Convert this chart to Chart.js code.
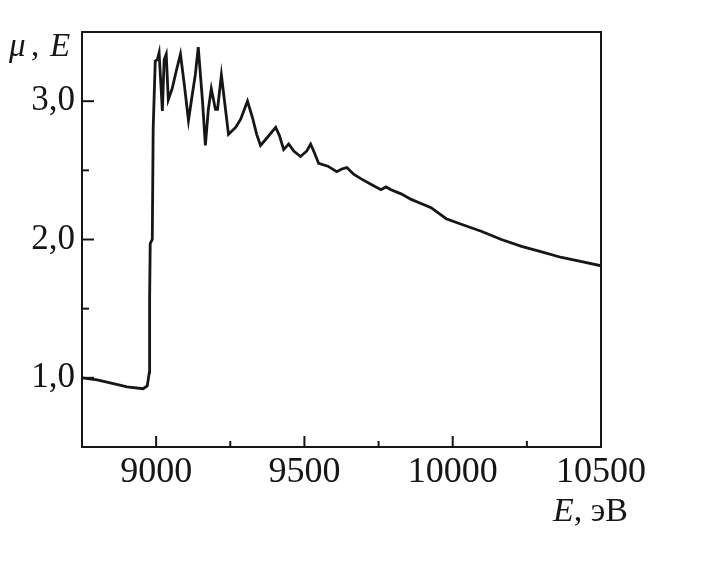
<!DOCTYPE html>
<html>
<head>
<meta charset="utf-8">
<script src="https://cdn.jsdelivr.net/npm/chart.js@4.4.1/dist/chart.umd.min.js"></script>
<style>
  html, body { margin: 0; padding: 0; background: #fff; }
  #wrap { width: 720px; height: 565px; }
</style>
</head>
<body>
<div id="wrap"><canvas id="chart" width="720" height="565"></canvas></div>
<script>
// energy, eV
const energy = [
    8750, 8801, 8845, 8902, 8956, 8970, 8977, 8978, 8980, 8987,
    8990, 8997, 9004, 9010, 9021, 9027, 9034, 9041, 9054, 9068,
    9082, 9095, 9109, 9122, 9132, 9142, 9156, 9166, 9176, 9186,
    9200, 9207, 9220, 9230, 9244, 9268, 9285, 9308, 9325, 9339,
    9352, 9372, 9403, 9416, 9430, 9447, 9464, 9487, 9508, 9521,
    9535, 9548, 9579, 9609, 9626, 9643, 9667, 9690, 9724, 9758,
    9775, 9792, 9826, 9860, 9893, 9927, 9978, 10029, 10096, 10164,
    10232, 10300, 10367, 10435, 10500
];
// absorption mu
const mu = [
    1.00, 0.986, 0.964, 0.935, 0.921, 0.942, 1.04, 1.57, 1.97, 2.00,
    2.80, 3.29, 3.30, 3.35, 2.93, 3.30, 3.34, 3.01, 3.09, 3.22,
    3.34, 3.12, 2.86, 3.05, 3.19, 3.39, 3.01, 2.68, 2.94, 3.09,
    2.94, 2.94, 3.19, 3.01, 2.76, 2.81, 2.87, 3.00, 2.88, 2.76,
    2.68, 2.73, 2.81, 2.75, 2.65, 2.69, 2.64, 2.60, 2.64, 2.69,
    2.62, 2.55, 2.53, 2.49, 2.51, 2.52, 2.47, 2.44, 2.40, 2.36,
    2.38, 2.36, 2.33, 2.29, 2.26, 2.23, 2.15, 2.11, 2.06, 2.00,
    1.95, 1.91, 1.87, 1.84, 1.81
];
const xTicksMajor = [9000, 9500, 10000];
const xTicksMinor = [9250, 9750, 10250];
const yTicksMajor = [1, 2, 3];
const yTicksMinor = [1.5, 2.5];

const ink = '#161616';
const serif = '"Times New Roman", "Liberation Serif", Tinos, serif';

const points = energy.map((e, i) => ({ x: e, y: mu[i] }));

// frame, inward ticks and axis titles
const framePlugin = {
    id: 'frame',
    afterDraw(chart) {
        const ctx = chart.ctx;
        const a = chart.chartArea;
        const xs = chart.scales.x;
        const ys = chart.scales.y;
        ctx.save();
        ctx.strokeStyle = ink;
        ctx.lineWidth = 2;
        ctx.beginPath();
        ctx.moveTo(a.left, a.top);
        ctx.lineTo(a.right, a.top);
        ctx.lineTo(a.right, a.bottom);
        ctx.stroke();

        const tick = (vals, len, axis) => {
            vals.forEach(v => {
                ctx.beginPath();
                if (axis == 'x') {
                    let px = xs.getPixelForValue(v);
                    ctx.moveTo(px, a.bottom);
                    ctx.lineTo(px, a.bottom - len);
                } else {
                    let py = ys.getPixelForValue(v);
                    ctx.moveTo(a.left, py);
                    ctx.lineTo(a.left + len, py);
                }
                ctx.stroke();
            });
        };
        tick(xTicksMajor, 11, 'x');
        tick(xTicksMinor, 6, 'x');
        tick(yTicksMajor, 12, 'y');
        tick(yTicksMinor, 7, 'y');

        ctx.fillStyle = ink;
        ctx.textBaseline = 'alphabetic';
        ctx.textAlign = 'left';
        // top-left: μ, E
        ctx.font = 'italic 33px ' + serif;
        ctx.fillText('μ', 9, 56);
        ctx.font = '33px ' + serif;
        ctx.fillText(',', 31, 56);
        ctx.font = 'italic 33px ' + serif;
        ctx.fillText('E', 50, 56);

        // bottom-right: E, эВ
        let x = 553;
        ctx.font = 'italic 34px ' + serif;
        ctx.fillText('E', x, 521);
        x += ctx.measureText('E').width;
        ctx.font = '34px ' + serif;
        ctx.fillText(', эВ', x, 521);
        ctx.restore();
    }
};

new Chart(document.querySelector('#chart'), {
    type: 'line',
    data: {
        datasets: [{
            data: points,
            borderColor: ink,
            borderWidth: 2.8,
            pointRadius: 0,
            tension: 0,
            fill: false
        }]
    },
    options: {
        responsive: false,
        animation: false,
        events: [],
        layout: { padding: { left: 0, right: 119, top: 32, bottom: 0 } },
        plugins: { legend: { display: false }, tooltip: { enabled: false } },
        scales: {
            x: {
                type: 'linear',
                min: 8750,
                max: 10500,
                afterFit: (s) => { s.height = 118; },
                grid: { drawOnChartArea: false, drawTicks: false },
                border: { color: ink, width: 2 },
                ticks: {
                    stepSize: 250,
                    padding: 4,
                    color: ink,
                    font: { family: serif, size: 36 },
                    maxRotation: 0,
                    autoSkip: false,
                    callback: (v) => (v >= 9000 && v % 500 == 0) ? String(v) : ''
                }
            },
            y: {
                min: 0.5,
                max: 3.5,
                afterFit: (s) => { s.width = 82; },
                grid: { drawOnChartArea: false, drawTicks: false },
                border: { color: ink, width: 2 },
                ticks: {
                    stepSize: 0.5,
                    padding: 7,
                    color: ink,
                    font: { family: serif, size: 35 },
                    autoSkip: false,
                    callback: (v) => (Number.isInteger(v) && v > 0.5 && v < 3.5) ? v.toFixed(1).replace('.', ',') : ''
                }
            }
        }
    },
    plugins: [framePlugin]
});
</script>
</body>
</html>
